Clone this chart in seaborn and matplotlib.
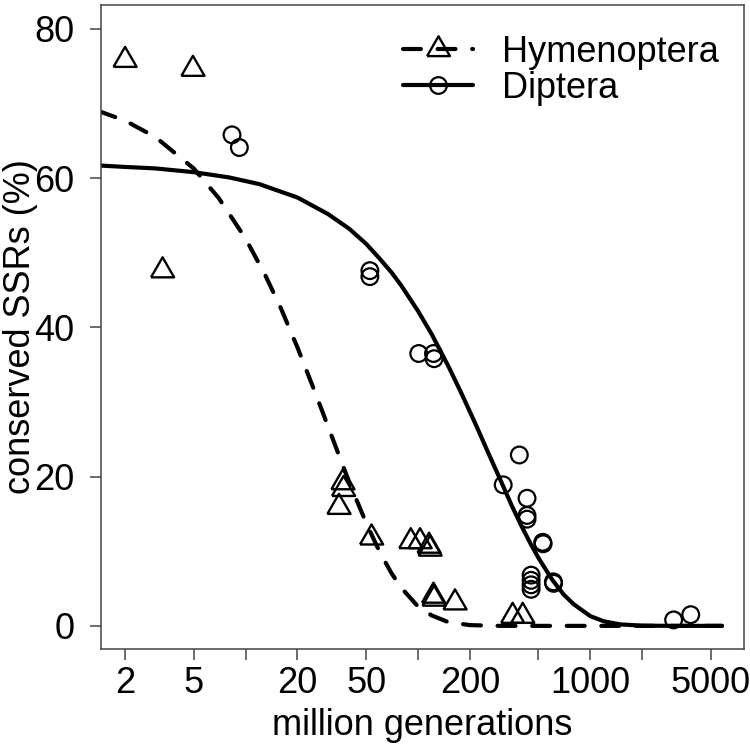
import numpy as np
import pandas as pd
import matplotlib
matplotlib.use("Agg")
import matplotlib.pyplot as plt
from matplotlib.lines import Line2D
import seaborn as sns

# ---------------- data ----------------
hym_x = [2.0, 4.95, 3.3, 36.7, 37.0, 34.8, 53.8, 90.8, 102.8, 115.9, 117.5,
         123.0, 124.0, 164.0, 354.0, 405.0]
hym_y = [75.8, 74.6, 47.6, 19.2, 18.3, 15.9, 11.8, 11.3, 11.3, 10.7, 10.3,
         4.0, 3.6, 3.1, 1.3, 1.3]

dip_x = [8.34, 9.2, 52.6, 52.6, 101.0, 123.0, 124.0, 387.0, 312.0, 429.0,
         429.0, 429.0, 529.0, 532.0, 453.0, 453.0, 453.0, 453.0, 610.0, 612.0,
         3040.0, 3820.0]
dip_y = [65.8, 64.1, 47.6, 46.8, 36.5, 36.5, 35.8, 22.9, 18.9, 17.1,
         14.8, 14.3, 11.2, 11.0, 6.8, 6.1, 5.5, 4.9, 5.9, 5.7,
         0.8, 1.5]

# fitted curves, values
hym_fit_x = [1.4, 2, 3, 5, 7, 10, 13, 16, 20, 25, 30, 35, 40, 50, 60, 70, 80,
             100, 120, 150, 200, 300, 1000, 5800]
hym_fit_y = [69.0, 67.7, 65.5, 61.3, 57.3, 51.9, 47.0, 42.6, 37.3, 31.6, 26.8,
             22.7, 19.2, 13.8, 9.9, 7.1, 5.1, 2.6, 1.4, 0.5, 0.1, 0.0, 0.0, 0.0]

dip_fit_x = [1.4, 2, 3, 5, 8, 12, 20, 30, 40, 50, 60, 70, 80, 100, 120, 150,
             180, 220, 260, 300, 350, 400, 450, 500, 600, 700, 800, 1000, 1200,
             1500, 2000, 3000, 5800]
dip_fit_y = [61.7, 61.5, 61.3, 60.8, 60.1, 59.2, 57.4, 55.2, 53.2, 51.2, 49.2,
             47.4, 45.6, 42.2, 39.1, 34.8, 31.0, 26.6, 22.8, 19.6, 16.1, 13.3,
             11.0, 9.1, 6.2, 4.2, 2.9, 1.3, 0.6, 0.19, 0.03, 0.0, 0.0]

x_ticks = [2, 5, 10, 20, 50, 100, 200, 500, 1000, 2000, 5000]
x_tick_labels = ["2", "5", "", "20", "50", "", "200", "", "1000", "", "5000"]
y_ticks = [0, 20, 40, 60, 80]

series_names = ["Hymenoptera", "Diptera"]

# ---------------- style ----------------
sns.set_style("ticks")
plt.rcParams["font.family"] = ["Liberation Sans", "DejaVu Sans"]
plt.rcParams["text.color"] = "black"
plt.rcParams["axes.labelcolor"] = "black"
plt.rcParams["xtick.labelcolor"] = "black"
plt.rcParams["ytick.labelcolor"] = "black"
FS = 26
frame_col = "#444444"

fig = plt.figure(figsize=(7.5, 7.49), dpi=100)
ax = fig.add_axes([101 / 750, 1 - 649 / 749, 643 / 750, 644 / 749])

pts_h = pd.DataFrame({"x": hym_x, "y": hym_y})
pts_d = pd.DataFrame({"x": dip_x, "y": dip_y})
fit_h = pd.DataFrame({"x": hym_fit_x, "y": hym_fit_y})
fit_d = pd.DataFrame({"x": dip_fit_x, "y": dip_fit_y})

LW = 3.0
DASH = (0, (4.3, 4.0))
sns.lineplot(data=fit_h, x="x", y="y", ax=ax, color="black", lw=LW,
             linestyle=DASH, dash_capstyle="round", sort=False)
sns.lineplot(data=fit_d, x="x", y="y", ax=ax, color="black", lw=LW,
             solid_capstyle="round", sort=False)

tri = [(-1, -0.577), (1, -0.577), (0, 1.155), (-1, -0.577)]
sns.scatterplot(data=pts_h, x="x", y="y", ax=ax, marker=tri, s=370,
                facecolor="none", edgecolor="black", linewidth=1.7, zorder=3)
sns.scatterplot(data=pts_d, x="x", y="y", ax=ax, marker="o", s=145,
                facecolor="none", edgecolor="black", linewidth=1.6, zorder=3)

ax.set_xscale("log")
ax.set_xlim(1.45, 7780)
ax.set_ylim(-3.1, 83.2)
ax.set_xticks(x_ticks)
ax.set_xticklabels(x_tick_labels)
ax.xaxis.set_minor_locator(matplotlib.ticker.NullLocator())
ax.set_yticks(y_ticks)
ax.set_yticklabels([str(v) for v in y_ticks])

ax.tick_params(axis="both", length=8, width=1.1, color=frame_col,
               labelsize=FS, labelcolor="black")
ax.tick_params(axis="x", pad=4)
ax.tick_params(axis="y", pad=11)
for sp in ax.spines.values():
    sp.set_visible(True)
    sp.set_color(frame_col)
    sp.set_linewidth(1.1)

ax.set_xlabel("million generations", fontsize=FS, color="black")
ax.set_ylabel("conserved SSRs (%)", fontsize=FS, color="black")
ax.xaxis.set_label_coords(0.5, -0.092)
ax.yaxis.set_label_coords(-0.098, 0.5)

handles = [
    Line2D([], [], color="black", lw=LW, linestyle=DASH,
           dash_capstyle="round", marker=tri, markersize=19,
           markerfacecolor="none", markeredgecolor="black", markeredgewidth=1.7),
    Line2D([], [], color="black", lw=LW, marker="o", markersize=12,
           markerfacecolor="none", markeredgecolor="black", markeredgewidth=1.6),
]
ax.legend(handles, series_names, loc="upper left",
          bbox_to_anchor=((403 - 101) / 643, (649 - 35) / 644),
          frameon=False, fontsize=FS, handlelength=1.95, handletextpad=0.8,
          labelspacing=0.03, borderpad=0, borderaxespad=0)

fig.savefig("out.png", dpi=100)
